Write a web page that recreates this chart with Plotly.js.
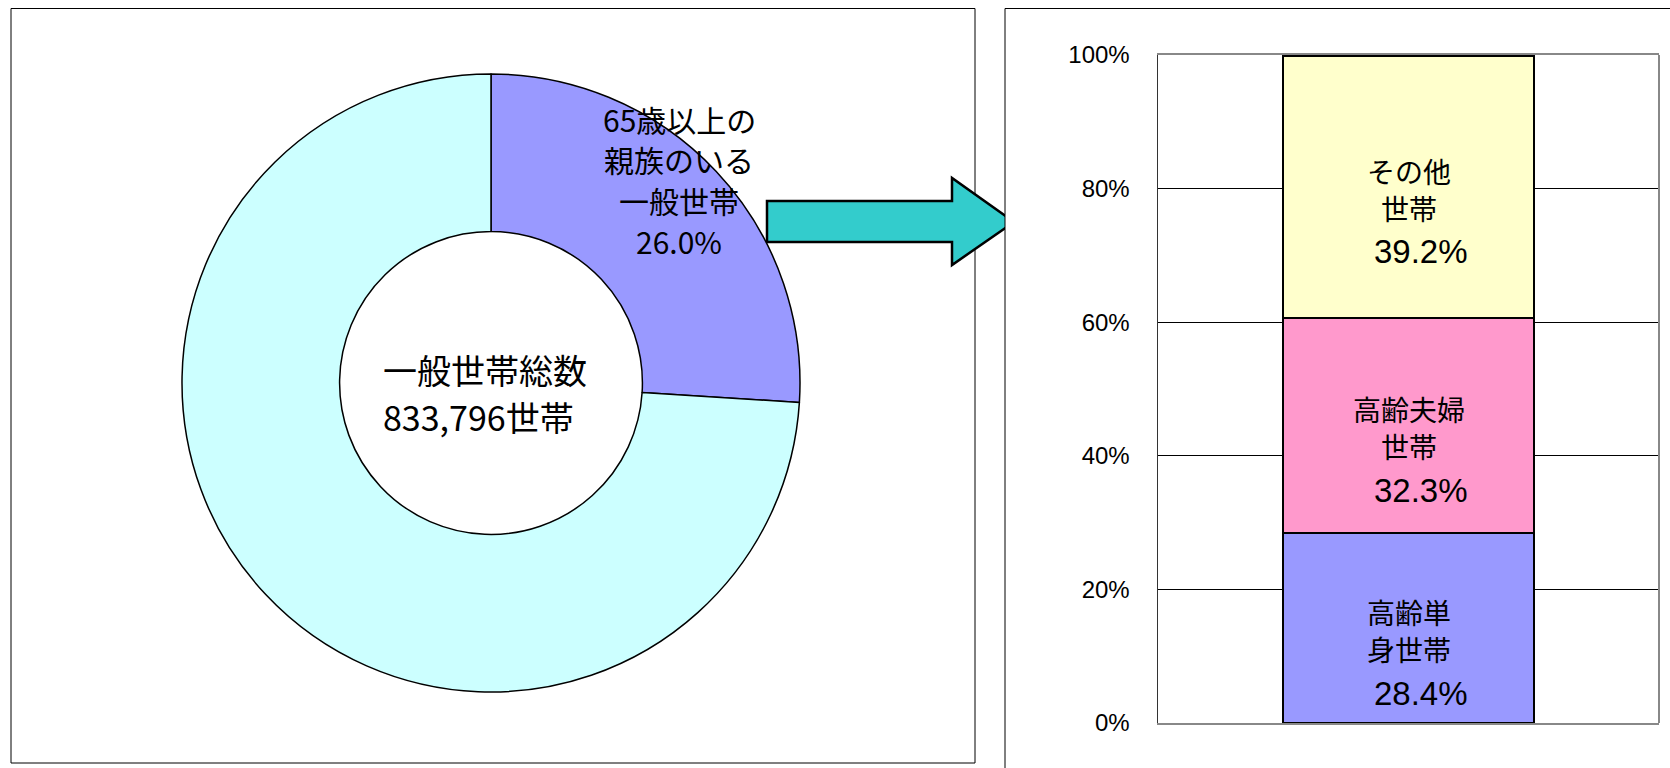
<!DOCTYPE html>
<html>
<head>
<meta charset="utf-8">
<script src="https://cdn.plot.ly/plotly-3.0.1.min.js"></script>
<style>html,body{margin:0;padding:0;background:#fff;}#chart{width:1670px;height:768px;}</style>
</head>
<body>
<div id="chart"></div>
<script>
// ---- data ----
const pieLabels = ['65歳以上の親族のいる一般世帯', 'その他の一般世帯'];
const pieValues = [26.0, 74.0];
const pieColors = ['#9999FF', '#CCFFFF'];
const totalLines = ['一般世帯総数', '833,796世帯'];
const pieSliceLines = ['65歳以上の', '親族のいる', '一般世帯', '26.0%'];

const barCategory = ['65歳以上の親族のいる一般世帯'];
const barNames = ['高齢単身世帯', '高齢夫婦世帯', 'その他世帯'];
const barLabelLines = [['高齢単', '身世帯'], ['高齢夫婦', '世帯'], ['その他', '世帯']];
const barValues = [28.4, 32.3, 39.2];
const barColors = ['#9999FF', '#FF99CC', '#FFFFCC'];
const yTickVals = [0, 20, 40, 60, 80, 100];
const yTickText = ['0%', '20%', '40%', '60%', '80%', '100%'];

// ---- geometry helpers (pixels -> paper) ----
const W = 1670, H = 768;
const px = x => x / W;
const py = y => 1 - y / H;

const cjk = '"Noto Sans CJK JP", "Noto Sans", sans-serif';
const latin = '"Liberation Sans", Arial, sans-serif';

const traces = [];
traces.push({
  type: 'pie',
  labels: pieLabels,
  values: pieValues,
  marker: {colors: pieColors, line: {color: '#000', width: 1.5}},
  hole: 0.49,
  sort: false,
  direction: 'clockwise',
  rotation: 0,
  textinfo: 'none',
  hoverinfo: 'label+percent',
  showlegend: false,
  domain: {x: [px(182), px(800)], y: [py(692), py(74)]}
});

barValues.forEach((v, i) => {
  traces.push({
    type: 'bar',
    name: barNames[i],
    x: barCategory,
    y: [v],
    marker: {color: barColors[i], line: {color: '#000', width: 2}},
    xaxis: 'x', yaxis: 'y',
    showlegend: false,
    hoverinfo: 'name+y'
  });
});

const annotations = [];
// bar segment labels, positioned from the stacked values
const lineShift = [16, -21];
let cum = 0;
barValues.forEach((v, i) => {
  const mid = cum + v / 2;
  cum += v;
  barLabelLines[i].forEach((t, j) => {
    annotations.push({
      x: barCategory[0], y: mid, xref: 'x', yref: 'y',
      xanchor: 'center', yanchor: 'middle',
      yshift: lineShift[j], showarrow: false,
      text: t, font: {family: cjk, size: 28, color: '#000'}
    });
  });
  annotations.push({
    x: barCategory[0], y: mid, xref: 'x', yref: 'y',
    xanchor: 'center', yanchor: 'middle',
    yshift: -65, xshift: 12, showarrow: false,
    text: v.toFixed(1) + '%', font: {family: latin, size: 33, color: '#000'}
  });
});

// centre text of the doughnut
totalLines.forEach((t, j) => {
  annotations.push({
    x: px(381), y: py(370 + j * 46), xref: 'paper', yref: 'paper',
    xanchor: 'left', yanchor: 'middle', showarrow: false,
    text: t, font: {family: cjk, size: 34, color: '#000'}
  });
});
// slice label
pieSliceLines.forEach((t, j) => {
  annotations.push({
    x: px(679), y: py(119 + j * 40.5), xref: 'paper', yref: 'paper',
    xanchor: 'center', yanchor: 'middle', showarrow: false,
    text: t, font: {family: cjk, size: 30, color: '#000'}
  });
});

function pathFrom(points) {
  return 'M ' + points.map(p => px(p[0]) + ',' + py(p[1])).join(' L ') + ' Z';
}

const shapes = [
  {type: 'rect', xref: 'paper', yref: 'paper', layer: 'below',
   x0: px(11), x1: px(975), y0: py(763), y1: py(8.5),
   line: {color: '#000', width: 1}, fillcolor: 'rgba(0,0,0,0)'},
  {type: 'path', xref: 'paper', yref: 'paper', layer: 'below',
   path: pathFrom([[767, 201], [952, 201], [952, 178], [1014, 222], [952, 265], [952, 242], [767, 242]]),
   line: {color: '#000', width: 2.5}, fillcolor: '#33CCCC'},
  {type: 'rect', xref: 'paper', yref: 'paper', layer: 'below',
   x0: px(1005), x1: 1.05, y0: -0.05, y1: py(8.5),
   line: {color: '#000', width: 1}, fillcolor: '#fff'},
  {type: 'line', xref: 'x domain', yref: 'y domain', layer: 'above',
   x0: 1, x1: 1, y0: 0, y1: 1, line: {color: '#888', width: 2}}
];

const layout = {
  width: W, height: H,
  margin: {l: 0, r: 0, t: 0, b: 0},
  paper_bgcolor: '#fff',
  plot_bgcolor: 'rgba(0,0,0,0)',
  barmode: 'stack',
  bargap: 0.5,
  showlegend: false,
  xaxis: {
    domain: [px(1158), px(1659)],
    showticklabels: false, ticks: '',
    showgrid: false, zeroline: false,
    showline: true, mirror: true, linecolor: '#888', linewidth: 2,
    fixedrange: true
  },
  yaxis: {
    domain: [py(723), py(55)],
    range: [0, 100],
    tickvals: yTickVals, ticktext: yTickText,
    ticks: 'inside', ticklen: 10, tickcolor: '#000', tickwidth: 1,
    tickfont: {family: latin, size: 24, color: '#000'},
    showgrid: true, gridcolor: '#000', gridwidth: 1,
    zeroline: false,
    showline: true, linecolor: '#333', linewidth: 1.5,
    ticklabelstandoff: 22,
    fixedrange: true
  },
  annotations: annotations,
  shapes: shapes
};

Plotly.newPlot('chart', traces, layout, {displayModeBar: false, staticPlot: true});
</script>
</body>
</html>
